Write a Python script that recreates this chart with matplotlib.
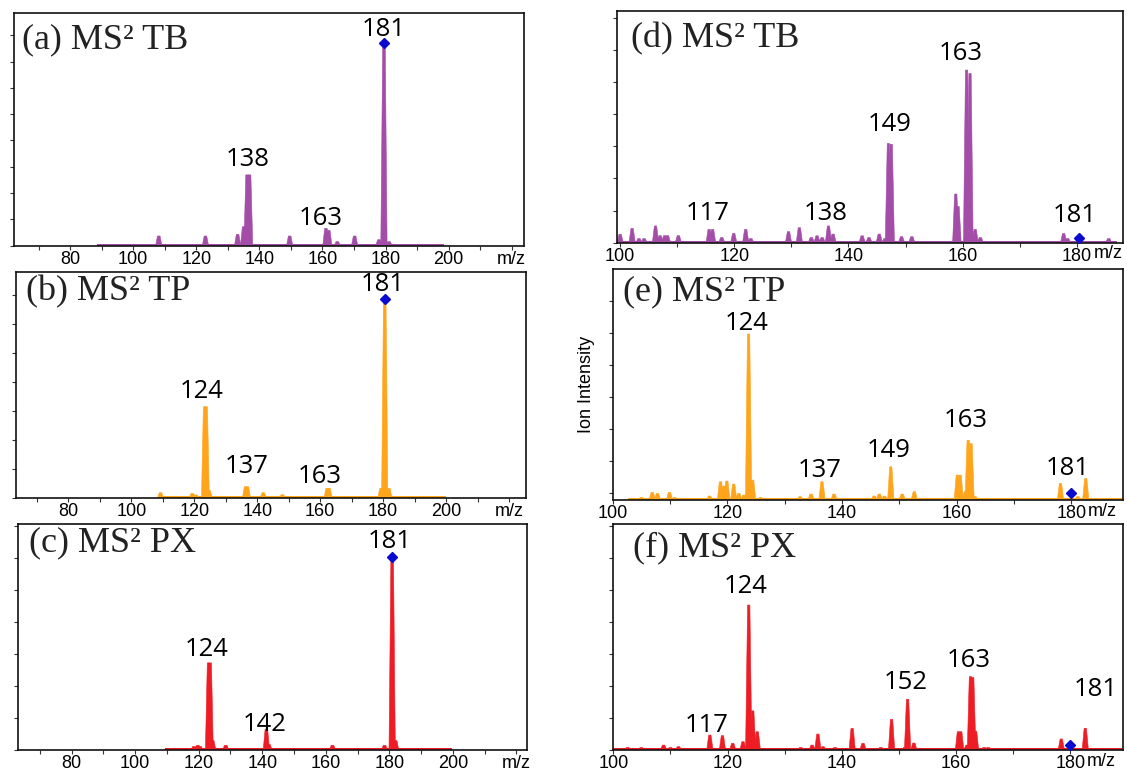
import numpy as np
import matplotlib.pyplot as plt

PURPLE = '#A34CA8'
ORANGE = '#FFA41B'
RED = '#EE1D25'
BLUE = '#0B0BD0'

# ---- (a) MS2 TB, wide scan ----
mz_a = [108.1, 122.9, 133.1, 135.0, 136.1, 136.9, 149.6, 161.1, 162.0, 164.7, 170.2, 177.9, 179.5, 181.1]
int_a = [4.8, 4.8, 5.6, 9.4, 35, 35, 4.8, 8.6, 7.6, 2, 4.8, 3, 100, 2]
span_a = (88.5, 198.5)
prec_a = (179.5, 100)
lab_a = ['181', '138', '163']
lab_x_a = [179.3, 136.3, 159.6]
lab_y_a = [106.6, 42.7, 13.5]

# ---- (b) MS2 TP, wide scan ----
mz_b = [109.3, 119.4, 120.5, 123.3, 123.8, 124.7, 136.3, 136.9, 141.9, 148.0, 162.2, 162.8, 179.3, 180.5, 181.8]
int_b = [2.8, 2.5, 1.7, 46, 46, 4, 5.8, 5.8, 2.8, 1.8, 5, 5, 5, 100, 5]
span_b = (109.1, 199.9)
prec_b = (180.5, 100)
lab_b = ['181', '124', '137', '163']
lab_x_b = [179.8, 122.3, 136.6, 159.9]
lab_y_b = [107.2, 53.6, 15.9, 10.9]

# ---- (c) MS2 PX, wide scan ----
mz_c = [118.5, 119.7, 120.4, 123.1, 123.6, 124.4, 128.5, 141.3, 142.1, 162.1, 178.5, 180.9, 182.0]
int_c = [2, 2.6, 2, 45.2, 45.2, 5, 2.6, 11, 3, 2.6, 2.6, 100, 5]
span_c = (109.3, 199.8)
prec_c = (180.9, 100)
lab_c = ['181', '124', '142']
lab_x_c = [180.1, 122.4, 140.8]
lab_y_c = [107.9, 52.2, 13.1]

# ---- (d) MS2 TB, zoomed ----
mz_d = [100.0, 102.1, 103.3, 104.2, 106.2, 107.0, 107.8, 108.3, 110.2, 115.6, 116.2, 117.8, 119.9,
        122.0, 122.9, 129.5, 131.4, 133.5, 134.5, 135.4, 136.5, 137.3, 142.4, 143.6, 145.4, 146.4,
        147.0, 147.5, 149.3, 151.1, 158.8, 159.2, 160.7, 161.3, 162.2, 163.1, 177.7, 178.4, 185.6]
int_d = [4.9, 8.3, 2.4, 2.4, 9.7, 4.1, 4.1, 4.1, 4.1, 7.7, 7.7, 3, 5.4,
         7.7, 2.4, 6.4, 8.7, 3, 4, 3, 9.7, 5, 4, 3, 5, 2.4,
         57.5, 57, 3.5, 3.5, 28.2, 21, 100, 98, 7.7, 3, 5.3, 2.4, 2.4]
span_d = (100.0, 187.0)
prec_d = (180.4, 3)
lab_d = ['117', '138', '149', '163', '181']
lab_x_d = [115.3, 136.0, 147.2, 159.6, 179.6]
lab_y_d = [17.2, 17.2, 68.7, 109.3, 16.0]

# ---- (e) MS2 TP, zoomed ----
mz_e = [105.0, 106.9, 107.8, 109.9, 110.8, 116.9, 118.8, 119.4, 119.9, 121.1, 122.0, 122.9, 123.7,
        124.4, 125.8, 132.7, 134.6, 136.5, 138.6, 145.6, 146.5, 147.4, 148.5, 150.5, 152.6, 160.1,
        160.6, 161.5, 162.0, 162.5, 163.2, 178.1, 181.1, 182.5]
int_e = [1.6, 4.6, 4, 4.6, 1.6, 2.4, 11, 8.4, 11.4, 9.6, 4, 3, 100,
         12, 1.6, 2, 3.6, 11, 3.6, 2.4, 3.6, 2.4, 20, 3.6, 5, 15,
         15, 5, 36, 34, 2, 10, 2, 13]
span_e = (102.7, 189.0)
prec_e = (180.0, 4.4)
lab_e = ['124', '137', '149', '163', '181']
lab_x_e = [123.4, 136.1, 148.1, 161.5, 179.4]
lab_y_e = [106.4, 17.7, 29.7, 47.6, 18.7]

# ---- (f) MS2 PX, zoomed ----
mz_f = [102.5, 104.9, 107.0, 108.8, 110.0, 111.4, 116.9, 119.1, 120.9, 122.7, 123.7, 124.4, 125.2,
        132.8, 134.8, 135.8, 136.7, 138.8, 141.8, 143.7, 146.8, 148.7, 151.0, 151.5, 152.6, 160.4,
        160.8, 161.9, 162.5, 162.9, 163.4, 164.9, 165.6, 178.4, 182.6]
int_f = [1.8, 1.8, 1.2, 3.4, 1.8, 2.3, 10.3, 9.9, 4.6, 5.7, 100, 27, 12.6,
         1.8, 3.4, 11, 2.3, 1.8, 14.9, 4.6, 1.8, 21.1, 1.8, 35, 4.8, 12.6,
         12.6, 3.4, 50.6, 50, 13, 1.8, 1.8, 7.6, 15]
span_f = (100.0, 189.0)
prec_f = (180.0, 3.4)
lab_f = ['117', '124', '152', '163', '181']
lab_x_f = [116.3, 123.2, 151.2, 162.2, 184.4]
lab_y_f = [17.2, 112.6, 46.4, 61.4, 41.4]

titles = ['(a) MS² TB', '(b) MS² TP', '(c) MS² PX', '(d) MS² TB', '(e) MS² TP', '(f) MS² PX']

W, H = 1127, 774


def px_axes(fig, x0, y0, x1, y1):
    # pixel box (top-left origin) -> figure fraction
    return fig.add_axes([x0 / W, 1 - y1 / H, (x1 - x0) / W, (y1 - y0) / H])


def draw_spectrum(ax, mz, inten, color, span, w, t, band):
    ax.fill_between(span, 0, band, color=color, lw=0, zorder=1)
    for m, h in zip(mz, inten):
        ax.fill([m - w, m - t, m + t, m + w], [0, h, h, 0], color=color, lw=0.4, zorder=1)


def style_axes(ax, xlim, ylim, ystep, y0=0):
    ax.set_xlim(*xlim)
    ax.set_ylim(*ylim)
    ax.set_yticks(np.arange(y0, ylim[1], ystep))
    ax.set_yticklabels([])
    for s in ax.spines.values():
        s.set_linewidth(1.2)
        s.set_color('#111111')
        s.set_zorder(3)
    ax.tick_params(direction='out', length=3, width=0.8, color='#333333', pad=0.5,
                   labelsize=13, labelfontfamily='Liberation Sans')


def peak_labels(ax, texts, xs, ys):
    for s, x, y in zip(texts, xs, ys):
        ax.text(x, y, s, ha='center', va='center', fontsize=18.5, family='Open Sans', zorder=4)


def title(ax, s, dx, dy):
    ax.annotate(s, xy=(0, 1), xycoords='axes fraction', xytext=(dx, -dy),
                textcoords='offset pixels', ha='left', va='center', fontsize=26,
                family='Liberation Serif', color='#222222', zorder=5)


fig = plt.figure(figsize=(W / 100, H / 100), dpi=100)

left_boxes = [(14, 13, 524, 245.7), (16, 272, 525.5, 498.3), (18.3, 524.3, 527.5, 750.3)]
right_boxes = [(616.7, 11, 1123, 242.7), (612.7, 269.3, 1123, 500), (613.3, 524, 1123, 750)]

left = [
    (mz_a, int_a, span_a, prec_a, lab_a, lab_x_a, lab_y_a, PURPLE, (62.2, 223.9), (0, 115), 13.0, 0, (7.7, 27)),
    (mz_b, int_b, span_b, prec_b, lab_b, lab_x_b, lab_y_b, ORANGE, (63.4, 225.2), (0, 113.7), 14.6, 0, (10, 19.7)),
    (mz_c, int_c, span_c, prec_c, lab_c, lab_x_c, lab_y_c, RED, (63.2, 223.5), (0, 116.9), 16.6, 0, (11, 19)),
]
right = [
    (mz_d, int_d, span_d, prec_d, lab_d, lab_x_d, lab_y_d, PURPLE, (99.4, 188.1), (0, 134.2), 18.6, 0, (14.4, 27.3)),
    (mz_e, int_e, span_e, prec_e, lab_e, lab_x_e, lab_y_e, ORANGE, (100, 189), (0, 139), 19.3, 4, (10.7, 22.4)),
    (mz_f, int_f, span_f, prec_f, lab_f, lab_x_f, lab_y_f, RED, (100, 189.2), (0, 155.9), 22.1, 0, (19.5, 24.3)),
]

for i, (box, cfg) in enumerate(zip(left_boxes, left)):
    mz, inten, span, prec, labs, lx, ly, col, xl, yl, ystep, y0, toff = cfg
    ax = px_axes(fig, *box)
    draw_spectrum(ax, mz, inten, col, span, w=1.0, t=0.4, band=yl[1] * 0.009)
    ax.plot(*prec, marker='D', ms=5, color=BLUE, zorder=4)
    style_axes(ax, xl, yl, ystep, y0)
    ticks = np.arange(70, 230, 10)
    ax.set_xticks(ticks)
    ax.set_xticklabels(['m/z' if v == 220 else (str(v) if v % 20 == 0 else '') for v in ticks])
    peak_labels(ax, labs, lx, ly)
    title(ax, titles[i], *toff)

for i, (box, cfg) in enumerate(zip(right_boxes, right)):
    mz, inten, span, prec, labs, lx, ly, col, xl, yl, ystep, y0, toff = cfg
    ax = px_axes(fig, *box)
    draw_spectrum(ax, mz, inten, col, span, w=0.55, t=0.2, band=yl[1] * 0.009)
    ax.plot(*prec, marker='D', ms=5, color=BLUE, zorder=4)
    style_axes(ax, xl, yl, ystep, y0)
    ticks = np.arange(100, 190, 10)
    ax.set_xticks(ticks)
    ax.set_xticklabels([str(v) if v % 20 == 0 else '' for v in ticks])
    ax.text(182.9, -0.012, 'm/z', transform=ax.get_xaxis_transform(), ha='left', va='top',
            fontsize=13, family='Liberation Sans')
    peak_labels(ax, labs, lx, ly)
    title(ax, titles[3 + i], *toff)
    if i == 1:
        ax.set_ylabel('Ion Intensity', fontsize=13, family='Liberation Sans', labelpad=9)

fig.savefig('out.png', dpi=100)
